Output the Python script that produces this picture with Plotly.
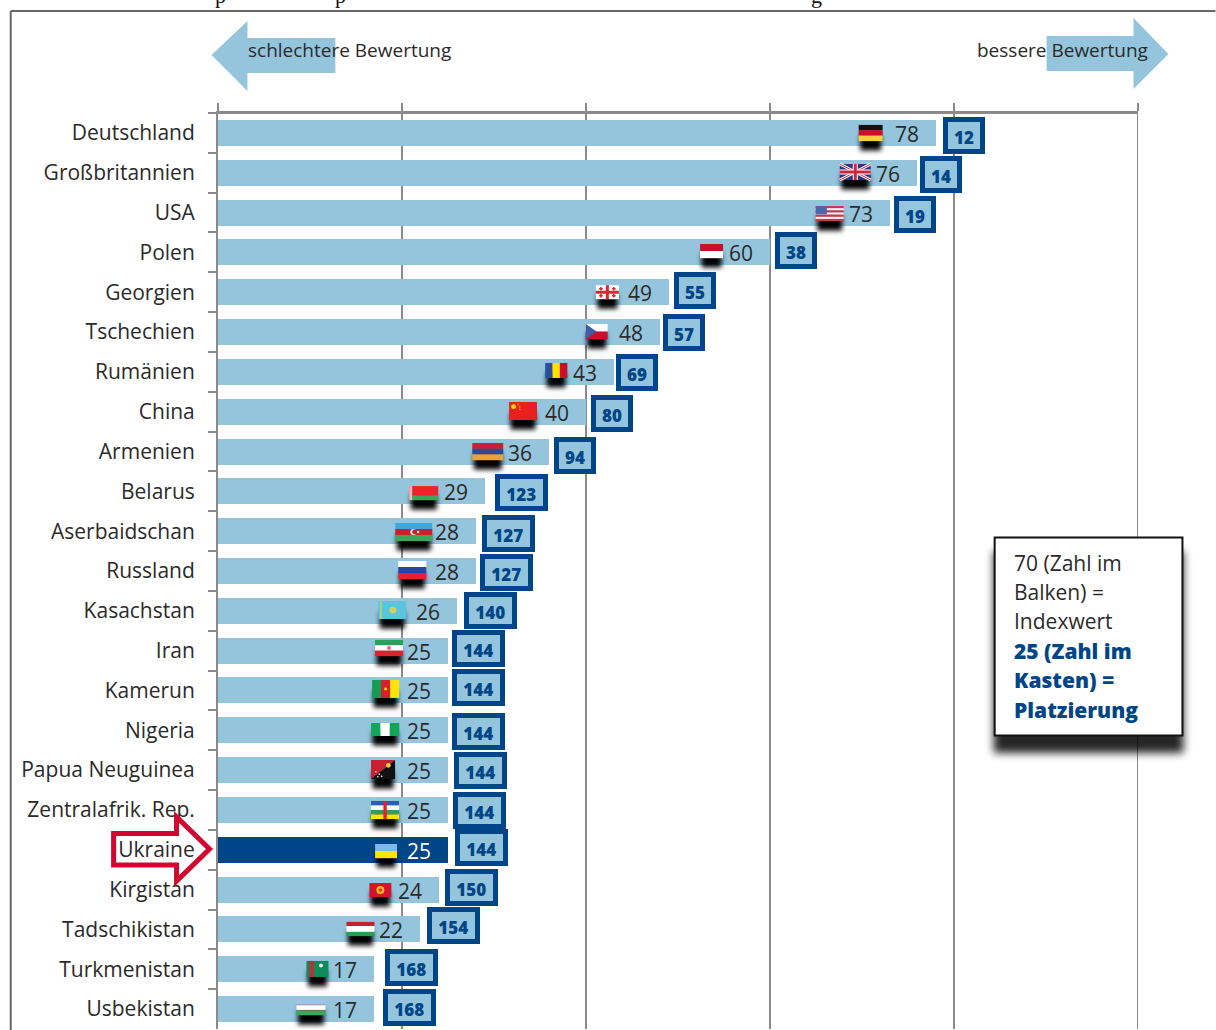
import base64

import plotly.graph_objects as go

COUNTRIES = ["Deutschland", "Großbritannien", "USA", "Polen", "Georgien", "Tschechien", "Rumänien",
             "China", "Armenien", "Belarus", "Aserbaidschan", "Russland", "Kasachstan", "Iran",
             "Kamerun", "Nigeria", "Papua Neuguinea", "Zentralafrik. Rep.", "Ukraine", "Kirgistan",
             "Tadschikistan", "Turkmenistan", "Usbekistan"]
INDEX_VALUES = [78, 76, 73, 60, 49, 48, 43, 40, 36, 29, 28, 28, 26, 25, 25, 25, 25, 25, 25, 24, 22, 17, 17]
RANKS = [12, 14, 19, 38, 55, 57, 69, 80, 94, 123, 127, 127, 140, 144, 144, 144, 144, 144, 144, 150, 154, 168, 168]
FLAGS = ["de", "gb", "us", "pl", "ge", "cz", "ro", "cn", "am", "by", "az", "ru", "kz", "ir", "cm", "ng",
         "pg", "cf", "ua", "kg", "tj", "tm", "uz"]

# hand placement of the rank boxes and flags, in pixels relative to bar end / row centre
BOX_DX = [28, 23.5, 25, 26, 26.5, 24, 23.5, 26, 25.5, 36.5, 33, 30.5, 33.5, 30, 30.5, 30.5, 32.5, 31.5, 33.5, 33, 33, 37.5, 35]
BOX_DY = [2.5, 2, 2.4, -1.4, -2.2, 0, 1, 1.3, 3.5, 0.7, 2.8, 1, 0, -1.7, -2.5, 0.7, 0, 0.5, -1.8, -2.6, -3.5, -1.3, -1.5]
FLAG_DX = [-77, -77.5, -74, -70, -73, -74, -68.5, -77, -77, -75.6, -80.4, -77.4, -79, -73, -76, -77, -77, -77, -73, -69.5, -74, -68, -78]
FLAG_DY = [0, -0.7, 1, -1.4, 0, -0.5, -1.4, -0.7, 0, 1.7, 0.8, -1, -0.8, -2.7, -1.5, -0.8, -0.6, 0, 1.2, 0.4, -0.5, -0.3, -1.5]
FLAG_W = [24, 31, 28, 23, 23, 22, 22, 28, 31, 29, 37, 28, 28, 28, 27, 28, 24, 28, 22, 22, 28, 22, 29]
FLAG_H = [16, 16, 15, 14, 14, 15, 15, 18, 17, 14, 18, 18, 18, 16, 18, 13, 19, 18, 14, 14, 14, 16, 15]

WIDTH, HEIGHT = 1216, 1030
LEFT, RIGHT, TOP, BOTTOM = 217.5, 1138.5, 113, 1029
PX_X = (RIGHT - LEFT) / 100
PX_Y = (BOTTOM - TOP) / len(COUNTRIES)

LIGHT = "#94C5DD"
NAVY = "#004587"
GREY = "#8A8A8A"
INK = "#2B2A29"
RED = "#D2062E"
FONT = "Open Sans"


# paper coordinates of plotly span the plot area only, so page pixels are converted here
def px(x):
    return (x - LEFT) / (RIGHT - LEFT)


def py(y):
    return (BOTTOM - y) / (BOTTOM - TOP)


def path(points):
    return "M" + " L".join(f"{px(x)},{py(y)}" for x, y in points) + " Z"


def h_bands(colors, w, h, weights=None):
    weights = weights or [1] * len(colors)
    total, y, out = sum(weights), 0, ""
    for c, k in zip(colors, weights):
        out += f'<rect x="0" y="{y}" width="{w}" height="{h * k / total + 0.2}" fill="{c}"/>'
        y += h * k / total
    return out


def v_bands(colors, w, h):
    out = ""
    for i, c in enumerate(colors):
        out += f'<rect x="{w * i / len(colors)}" y="0" width="{w / len(colors) + 0.2}" height="{h}" fill="{c}"/>'
    return out


def dot(x, y, r, c):
    return f'<circle cx="{x}" cy="{y}" r="{r}" fill="{c}"/>'


def flag_art(code, w, h):
    if code == "de":
        return h_bands(["#111111", "#C8102E", "#F5CF3C"], w, h)
    if code == "gb":
        return (f'<rect width="{w}" height="{h}" fill="#2A3A7E"/>'
                f'<path d="M0 0L{w} {h}M{w} 0L0 {h}" stroke="#fff" stroke-width="3"/>'
                f'<path d="M0 0L{w} {h}M{w} 0L0 {h}" stroke="#D9213F" stroke-width="1"/>'
                f'<path d="M{w / 2} 0V{h}M0 {h / 2}H{w}" stroke="#fff" stroke-width="5"/>'
                f'<path d="M{w / 2} 0V{h}M0 {h / 2}H{w}" stroke="#D9213F" stroke-width="3"/>')
    if code == "us":
        return (h_bands(["#C8374A", "#F6F0F0"] * 3 + ["#C8374A"], w, h)
                + f'<rect width="{w * 0.4}" height="{h * 0.55}" fill="#4A66AC"/>')
    if code == "pl":
        return h_bands(["#C8102E", "#FFFFFF"], w, h)
    if code == "ge":
        return (f'<rect width="{w}" height="{h}" fill="#fff"/>'
                f'<path d="M{w / 2} 0V{h}M0 {h / 2}H{w}" stroke="#E8202E" stroke-width="3"/>'
                f'<path d="M{w * 0.22} {h * 0.12}V{h * 0.38}M{w * 0.14} {h * 0.25}H{w * 0.3}'
                f'M{w * 0.78} {h * 0.12}V{h * 0.38}M{w * 0.7} {h * 0.25}H{w * 0.86}'
                f'M{w * 0.22} {h * 0.62}V{h * 0.88}M{w * 0.14} {h * 0.75}H{w * 0.3}'
                f'M{w * 0.78} {h * 0.62}V{h * 0.88}M{w * 0.7} {h * 0.75}H{w * 0.86}" stroke="#E8202E" stroke-width="1.6"/>')
    if code == "cz":
        return (h_bands(["#FFFFFF", "#C8102E"], w, h)
                + f'<path d="M0 0L{w * 0.5} {h / 2}L0 {h}Z" fill="#3E5CA8"/>')
    if code == "ro":
        return v_bands(["#2B4F9E", "#FCE300", "#C8102E"], w, h)
    if code == "cn":
        return (f'<rect width="{w}" height="{h}" fill="#E8201E"/>' + dot(w * 0.16, h * 0.26, 2.4, "#FFDE00")
                + dot(w * 0.32, h * 0.12, 0.7, "#FFDE00") + dot(w * 0.38, h * 0.26, 0.7, "#FFDE00")
                + dot(w * 0.38, h * 0.42, 0.7, "#FFDE00"))
    if code == "am":
        return h_bands(["#C8202E", "#2F4A94", "#E8A33A"], w, h)
    if code == "by":
        return (h_bands(["#E8262C", "#3FA35A"], w, h, [2, 1])
                + f'<rect width="{w * 0.1}" height="{h}" fill="#F2B8B8"/>')
    if code == "az":
        return (h_bands(["#3FA9DE", "#C8202E", "#3FA55A"], w, h)
                + dot(w * 0.49, h / 2, 3, "#fff") + dot(w * 0.52, h / 2, 2.4, "#C8202E") + dot(w * 0.62, h / 2, 1.2, "#fff"))
    if code == "ru":
        return h_bands(["#FFFFFF", "#2546A8", "#E0242E"], w, h)
    if code == "kz":
        return (f'<rect width="{w}" height="{h}" fill="#5BC4DE"/>'
                f'<rect x="{w * 0.07}" width="1.4" height="{h}" fill="#C8D26A"/>' + dot(w * 0.52, h / 2, 3.4, "#D8CF55"))
    if code == "ir":
        return (h_bands(["#2AA05A", "#FFFFFF", "#E0202E"], w, h) + dot(w / 2, h / 2, 2, "#E06A78"))
    if code == "cm":
        return v_bands(["#169B55", "#D8202E", "#FCE300"], w, h) + dot(w / 2, h / 2, 1.4, "#FCE300")
    if code == "ng":
        return v_bands(["#10A858", "#FFFFFF", "#10A858"], w, h)
    if code == "pg":
        return (f'<path d="M0 0H{w}L0 {h}Z" fill="#C8202E"/><path d="M{w} 0V{h}H0Z" fill="#111"/>'
                + dot(w * 0.72, h * 0.28, 2.4, "#F6C83C") + dot(w * 0.2, h * 0.62, 0.8, "#fff")
                + dot(w * 0.34, h * 0.74, 0.8, "#fff") + dot(w * 0.28, h * 0.88, 0.8, "#fff") + dot(w * 0.44, h * 0.86, 0.8, "#fff"))
    if code == "cf":
        return (h_bands(["#2A5FB0", "#FFFFFF", "#2FA05A", "#FCE300"], w, h)
                + f'<rect x="{w * 0.44}" width="{w * 0.12}" height="{h}" fill="#E0202E"/>')
    if code == "ua":
        return h_bands(["#7FB8E8", "#FCE300"], w, h)
    if code == "kg":
        return f'<rect width="{w}" height="{h}" fill="#D4142E"/>' + dot(w / 2, h / 2, 4, "#F6B81C") + dot(w / 2, h / 2, 1.8, "#C8401E")
    if code == "tj":
        return h_bands(["#C8202E", "#FFFFFF", "#2A9A55"], w, h, [1, 1.4, 1])
    if code == "tm":
        return (f'<rect width="{w}" height="{h}" fill="#0F8A5A"/>'
                f'<rect x="{w * 0.12}" width="{w * 0.22}" height="{h}" fill="#A8383A"/>' + dot(w * 0.66, h * 0.28, 2, "#EEE"))
    if code == "uz":
        return h_bands(["#9CC6E8", "#C8202E", "#FFFFFF", "#C8202E", "#3FA55A"], w, h, [5, 0.5, 5, 0.5, 5])
    return ""


def flag_image(code, w, h, pad=10, below=20):
    cw, ch = w + 2 * pad, h + pad + below
    svg = (f'<svg xmlns="http://www.w3.org/2000/svg" width="{cw}" height="{ch}" viewBox="0 0 {cw} {ch}">'
           '<defs><filter id="b" x="-40%" y="-60%" width="180%" height="220%"><feGaussianBlur stdDeviation="2.6"/></filter></defs>'
           f'<rect x="{pad + 1.5}" y="{pad + h * 0.6}" width="{w - 3}" height="{h * 0.4 + 9.5}" fill="#000" filter="url(#b)"/>'
           f'<g transform="translate({pad},{pad})">{flag_art(code, w, h)}</g></svg>')
    return "data:image/svg+xml;base64," + base64.b64encode(svg.encode()).decode(), cw, ch


colors = [NAVY if c == "Ukraine" else LIGHT for c in COUNTRIES]

fig = go.Figure(go.Bar(
    x=INDEX_VALUES, y=COUNTRIES, orientation="h",
    marker=dict(color=colors, line=dict(width=0)),
    width=26 / PX_Y, hoverinfo="skip",
))

images, annotations = [], []
for i, (country, value, rank, code) in enumerate(zip(COUNTRIES, INDEX_VALUES, RANKS, FLAGS)):
    annotations.append(dict(
        x=value, y=country, text=str(value), showarrow=False, xshift=-29, yshift=-1,
        font=dict(family=FONT, size=21, color="#FFFFFF" if country == "Ukraine" else INK),
    ))
    annotations.append(dict(
        x=value, y=country, text=str(rank), showarrow=False, xshift=BOX_DX[i], yshift=-BOX_DY[i],
        font=dict(family=FONT, size=17, color=NAVY, weight=800),
        bgcolor=LIGHT, bordercolor=NAVY, borderwidth=5, borderpad=0,
        width=32 if rank < 100 else 42.5, height=26.5, valign="bottom",
    ))
    src, cw, ch = flag_image(code, FLAG_W[i], FLAG_H[i])
    images.append(dict(
        source=src, xref="x", yref="y", layer="above", sizing="stretch",
        x=value + (FLAG_DX[i] - 10) / PX_X,
        y=i + (FLAG_DY[i] - FLAG_H[i] / 2 - 10) / PX_Y,
        sizex=cw / PX_X, sizey=ch / PX_Y, xanchor="left", yanchor="top",
    ))

# soft shadow of the legend box
shadow_svg = ('<svg xmlns="http://www.w3.org/2000/svg" width="230" height="250" viewBox="0 0 230 250">'
              '<defs><filter id="s" x="-20%" y="-20%" width="140%" height="140%"><feGaussianBlur stdDeviation="4"/></filter></defs>'
              '<rect x="17" y="24" width="190" height="202" fill="#000" opacity="0.85" filter="url(#s)"/></svg>')
images.append(dict(
    source="data:image/svg+xml;base64," + base64.b64encode(shadow_svg.encode()).decode(),
    xref="paper", yref="paper", layer="above", sizing="stretch",
    x=px(977), y=py(527), sizex=230 / (RIGHT - LEFT), sizey=250 / (BOTTOM - TOP), xanchor="left", yanchor="top",
))

shapes = [
    # plotly leaves out the grid line at the range end and the top rule, so they are added here
    dict(type="line", xref="x", yref="paper", x0=100, x1=100, y0=0, y1=1, layer="below", line=dict(color=GREY, width=2)),
    dict(type="line", xref="paper", yref="paper", x0=0, x1=1, y0=1, y1=1, layer="below", line=dict(color=GREY, width=2)),
    dict(type="path", xref="paper", yref="paper", line=dict(width=0), fillcolor=LIGHT,
         path=path([(211, 55), (247, 21), (247, 38), (335, 38), (335, 73), (247, 73), (247, 91)])),
    dict(type="path", xref="paper", yref="paper", line=dict(width=0), fillcolor=LIGHT,
         path=path([(1169, 54), (1134, 18), (1134, 36), (1047, 36), (1047, 71), (1134, 71), (1134, 89)])),
    dict(type="line", xref="paper", yref="paper", x0=px(10), x1=px(10), y0=py(11), y1=py(1030), line=dict(color="#666666", width=2)),
    dict(type="line", xref="paper", yref="paper", x0=px(10), x1=px(1216), y0=py(11), y1=py(11), line=dict(color="#666666", width=2)),
    dict(type="rect", xref="paper", yref="paper", x0=px(995), x1=px(1183), y0=py(537.5), y1=py(735.5),
         fillcolor="#FFFFFF", line=dict(color="#111111", width=2)),
    dict(type="path", xref="paper", yref="paper", line=dict(color=RED, width=5), fillcolor="rgba(0,0,0,0)",
         path=path([(113, 833.5), (176, 833.5), (176, 817), (209, 849), (176, 881), (176, 865), (113, 865)])),
]


def page_text(x, y, text, size=21, color=INK, family=FONT, weight=None, xanchor="left", yanchor="middle"):
    font = dict(family=family, size=size, color=color)
    if weight:
        font["weight"] = weight
    return dict(xref="paper", yref="paper", x=px(x), y=py(y), text=text, showarrow=False,
                xanchor=xanchor, yanchor=yanchor, font=font, borderpad=0, borderwidth=0)


annotations += [
    page_text(248, 50, "schlechtere Bewertung", size=19),
    page_text(977, 50, "bessere Bewertung", size=19),
]
for y, line in zip([563, 592, 621], ["70 (Zahl im", "Balken) =", "Indexwert"]):
    annotations.append(page_text(1014, y, line))
for y, line in zip([651, 680, 710], ["25 (Zahl im", "Kasten) =", "Platzierung"]):
    annotations.append(page_text(1014, y, line, color=NAVY, weight=800))
# descenders of the headline that the crop cuts off
for x, glyph in zip([220, 340, 817], ["p", "p", "g"]):
    annotations.append(page_text(x, 8, glyph, size=22, color="#111111", family="Liberation Serif",
                                 xanchor="center", yanchor="bottom"))

fig.update_layout(
    width=WIDTH, height=HEIGHT, showlegend=False, bargap=0,
    paper_bgcolor="#FFFFFF", plot_bgcolor="#FFFFFF",
    margin=dict(l=LEFT, r=WIDTH - RIGHT, t=TOP, b=HEIGHT - BOTTOM, pad=0, autoexpand=False),
    images=images, shapes=shapes, annotations=annotations,
    xaxis=dict(range=[0, 100], side="top", dtick=20, tick0=0, showticklabels=False, ticks="outside",
               ticklen=8, tickwidth=2, tickcolor=GREY, showgrid=True, gridcolor=GREY, gridwidth=2,
               showline=True, linecolor=GREY, linewidth=2, zeroline=False, fixedrange=True),
    yaxis=dict(categoryorder="array", categoryarray=COUNTRIES, range=[len(COUNTRIES) - 0.5, -0.5],
               ticks="outside", tickson="boundaries", ticklen=8, tickwidth=2, tickcolor=GREY,
               ticklabelstandoff=17, tickfont=dict(family=FONT, size=21, color=INK),
               showline=True, linecolor=GREY, linewidth=2, showgrid=False, zeroline=False, fixedrange=True),
    hovermode=False,
)

fig.write_html("out.html", config={"displayModeBar": False},
               post_script="document.body.style.margin='0';document.documentElement.style.overflow='hidden';")
